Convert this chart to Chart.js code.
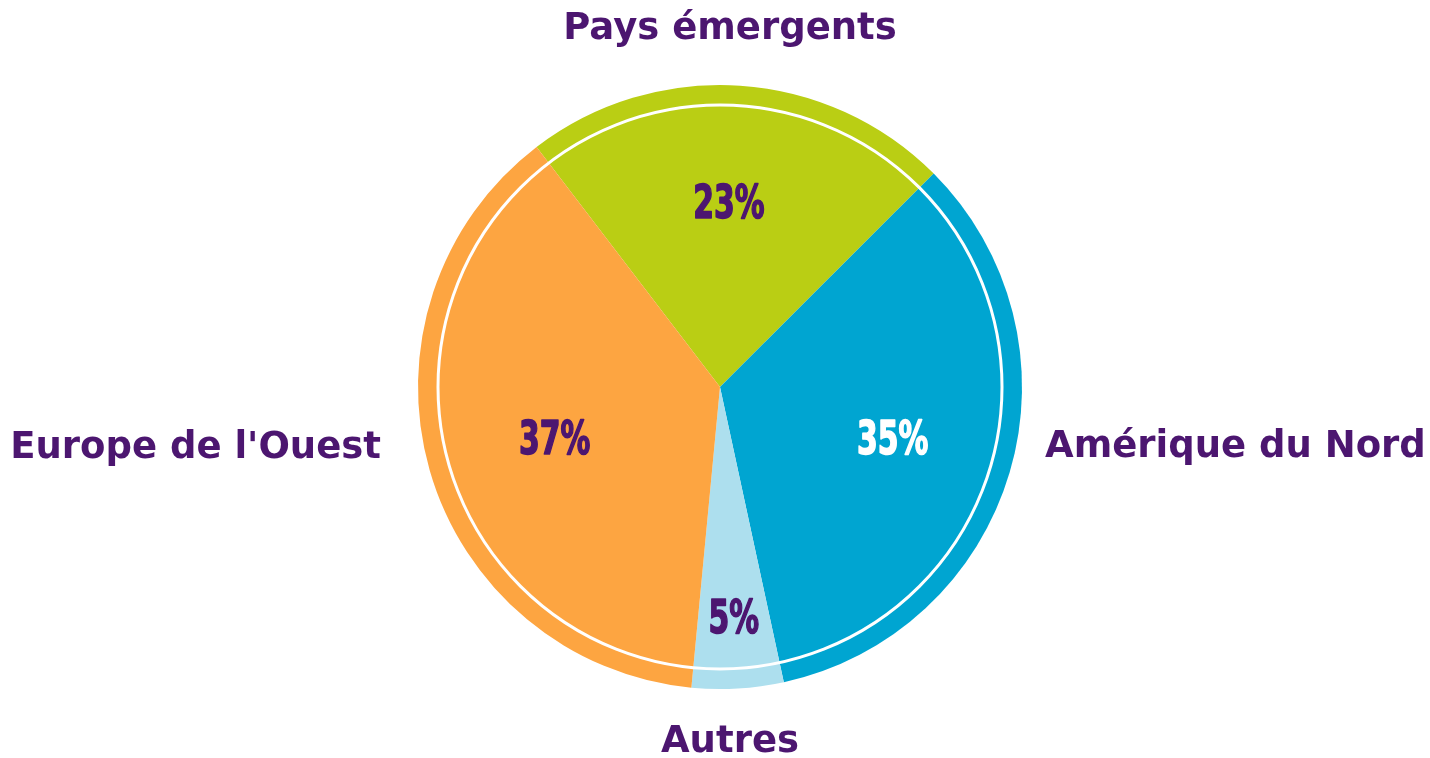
<!DOCTYPE html>
<html>
<head>
<meta charset="utf-8">
<script src="https://cdn.jsdelivr.net/npm/chart.js@4.4.0/dist/chart.umd.min.js"></script>
<style>
  html, body { margin: 0; padding: 0; background: #fff; }
  #wrap { width: 1430px; height: 758px; }
</style>
</head>
<body>
<div id="wrap"><canvas id="myChart" width="1430" height="758"></canvas></div>
<script>
// data (slice sizes as drawn; printed labels below)
const regions = ["Pays émergents", "Amérique du Nord", "Autres", "Europe de l'Ouest"];
const shares = [22.9, 34.1, 4.9, 38.1];
const shareLabels = ["23%", "35%", "5%", "37%"];

const sliceColors = ["#BACE14", "#00A5D1", "#ADDFEE", "#FDA541"];
const purple = "#4C1670";
const pctColors = [purple, "#ffffff", purple, purple];

// label placement: angle (deg from top, clockwise) and distance as fraction of radius
const pctPos = [[2.8, 0.60], [107.6, 0.60], [176.6, 0.777], [251.6, 0.577]];
const namePos = [[10, -358, "center"], [325, 60, "left"], [10, 355, "center"], [-339, 61, "right"]];

const labelPlugin = {
  id: "labelPlugin",
  afterDatasetsDraw(chart) {
    const ctx = chart.ctx;
    const arc = chart.getDatasetMeta(0).data[0];
    const cx = arc.x, cy = arc.y, r = arc.outerRadius;

    // white ring
    ctx.save();
    ctx.beginPath();
    ctx.arc(cx, cy, r - 20, 0, Math.PI * 2);
    ctx.strokeStyle = "#ffffff";
    ctx.lineWidth = 3;
    ctx.stroke();
    ctx.restore();

    // percentages
    shareLabels.forEach((t, i) => {
      const a = pctPos[i][0] * Math.PI / 180;
      const d = pctPos[i][1] * r;
      const x = cx + Math.sin(a) * d;
      const y = cy - Math.cos(a) * d;
      ctx.save();
      ctx.translate(x, y);
      ctx.scale(0.72, 1);
      ctx.font = "bold 46px 'DejaVu Sans Condensed', 'DejaVu Sans'";
      ctx.fillStyle = pctColors[i];
      ctx.strokeStyle = pctColors[i];
      ctx.lineWidth = 1.6;
      ctx.lineJoin = "round";
      ctx.textAlign = "center";
      ctx.textBaseline = "middle";
      ctx.strokeText(t, 0, 0);
      ctx.fillText(t, 0, 0);
      ctx.restore();
    });

    // region names
    regions.forEach((t, i) => {
      ctx.save();
      ctx.font = "bold 37px 'DejaVu Sans'";
      ctx.fillStyle = purple;
      ctx.textAlign = namePos[i][2];
      ctx.textBaseline = "middle";
      ctx.fillText(t, cx + namePos[i][0], cy + namePos[i][1]);
      ctx.restore();
    });
  }
};

new Chart(document.getElementById("myChart"), {
  type: "pie",
  data: {
    labels: regions,
    datasets: [{
      data: shares,
      backgroundColor: sliceColors,
      borderWidth: 0,
    }],
  },
  options: {
    responsive: false,
    animation: false,
    rotation: -37.4,
    layout: { padding: { top: 85, bottom: 69, left: 10, right: 0 } },
    plugins: {
      legend: { display: false },
      tooltip: { enabled: false },
    },
  },
  plugins: [labelPlugin],
});
</script>
</body>
</html>
